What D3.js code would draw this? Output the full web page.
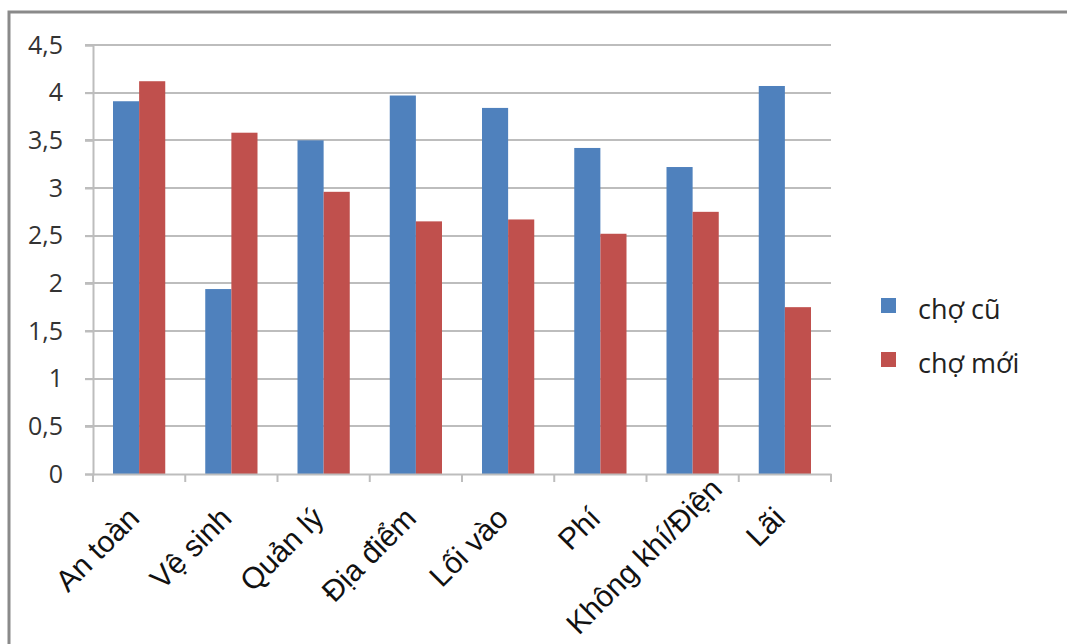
<!doctype html>
<html>
    <head>
        <meta charset="utf-8">
        <style>
            body {margin:0; background:#fff}
            svg {width:1067px; height:644px; display:block}
            .grid line {stroke:#bdbdbd; stroke-width:2px; shape-rendering:crispEdges}
            .yaxis text {font-family:"Open Sans","Noto Sans",sans-serif; font-size:25px; fill:#333}
            .xaxis text {font-family:"Liberation Sans",Arial,sans-serif; font-size:30px; fill:#111}
            .legend text {font-family:"Open Sans","Noto Sans",sans-serif; font-size:27px; fill:#222}
        </style>
        <script src="https://d3js.org/d3.v7.min.js"></script>
    </head>
    <body>
        <script>
            var categories = ["An toàn","Vệ sinh","Quản lý","Địa điểm","Lối vào","Phí","Không khí/Điện","Lãi"];
            var choCu  = [3.91,1.94,3.50,3.97,3.84,3.42,3.22,4.07];
            var choMoi = [4.12,3.58,2.96,2.65,2.67,2.52,2.75,1.75];
            var seriesNames = ["chợ cũ","chợ mới"];
            var yTicks = [0,0.5,1,1.5,2,2.5,3,3.5,4,4.5];

            var colors = ["#4f81bd","#c0504d"];
            var plotLeft=93, plotRight=831, plotTop=45, plotBottom=474;
            var labelFloor=636; //lowest y a rotated label may reach

            var svg = d3.select("body").append("svg");

            //outer frame (only top and left edges show)
            svg.append("path")
                .attr("d","M9,644 V12 H1067")
                .attr("fill","none")
                .attr("stroke","#8a8a8a")
                .attr("stroke-width",3);

            var x = d3.scaleBand().domain(categories).range([plotLeft,plotRight]);
            var xs = d3.scaleBand().domain([0,1]).range([20,x.bandwidth()-20]);
            var y = d3.scaleLinear().domain([0,4.5]).range([plotBottom,plotTop]);

            //gridlines
            svg.append("g").attr("class","grid")
                .selectAll("line").data(yTicks.slice(1)).enter().append("line")
                .attr("x1",plotLeft-8).attr("x2",plotRight)
                .attr("y1",function(d){return Math.round(y(d))})
                .attr("y2",function(d){return Math.round(y(d))});

            //bars
            var data = categories.map(function(c,i){return [choCu[i],choMoi[i]]});
            var groups = svg.append("g").selectAll("g").data(data).enter().append("g")
                .attr("transform",function(d,i){return "translate("+x(categories[i])+",0)"});
            groups.selectAll("rect").data(function(d){return d}).enter().append("rect")
                .attr("x",function(d,j){return xs(j)})
                .attr("width",xs.bandwidth())
                .attr("y",function(d){return y(d)})
                .attr("height",function(d){return y(0)-y(d)})
                .attr("fill",function(d,j){return colors[j]});

            //y axis
            var yAxis = svg.append("g").attr("class","yaxis")
                .attr("transform","translate("+plotLeft+",0)")
                .call(d3.axisLeft(y).tickValues(yTicks).tickSize(8).tickPadding(22)
                    .tickFormat(function(d){return String(d).replace(".",",")}));
            yAxis.select(".domain").attr("stroke","#bdbdbd").attr("stroke-width",2);
            yAxis.selectAll(".tick line").attr("stroke","#bdbdbd").attr("stroke-width",2);

            //x axis
            var xAxis = svg.append("g").attr("class","xaxis")
                .attr("transform","translate(0,"+plotBottom+")")
                .call(d3.axisBottom(x).tickSize(0).tickPadding(0));
            xAxis.select(".domain").attr("stroke","#bdbdbd").attr("stroke-width",2);
            var s = Math.SQRT1_2;
            xAxis.selectAll(".tick text")
                .attr("text-anchor","end")
                .attr("dy",0)
                .attr("transform",function(){
                    var len = this.getComputedTextLength();
                    var px = 2, py = 46;
                    //like excel: slide long labels up along their direction
                    var over = plotBottom + py + len*s - labelFloor;
                    if (over > 0) { px += over; py -= over; }
                    return "translate("+px+","+py+") rotate(-45)";
                });
            //category boundary ticks
            svg.append("g").selectAll("line").data(d3.range(categories.length+1)).enter().append("line")
                .attr("x1",function(i){return plotLeft+i*x.step()})
                .attr("x2",function(i){return plotLeft+i*x.step()})
                .attr("y1",plotBottom).attr("y2",plotBottom+8)
                .attr("stroke","#bdbdbd").attr("stroke-width",2);

            //legend
            var legend = svg.append("g").attr("class","legend")
                .selectAll("g").data(seriesNames).enter().append("g")
                .attr("transform",function(d,i){return "translate(881,"+(298+i*54)+")"});
            legend.append("rect").attr("width",15).attr("height",15)
                .attr("fill",function(d,i){return colors[i]});
            legend.append("text").attr("x",37).attr("y",21).text(function(d){return d});
        </script>
    </body>
</html>
